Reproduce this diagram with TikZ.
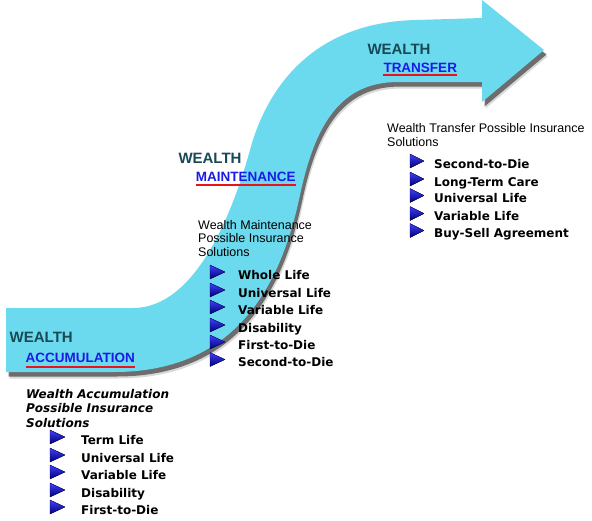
\documentclass[tikz,border=0pt]{standalone}
\usepackage{fontspec}
\setmainfont{Liberation Sans}
\newfontfamily\itemfont{DejaVu Sans}
\usetikzlibrary{shadows}

\definecolor{bandcyan}{HTML}{6CDAEE}
\definecolor{wealthteal}{HTML}{174A55}
\definecolor{stageblue}{HTML}{1A1AE8}
\definecolor{underred}{HTML}{E8141A}

\begin{document}
\begin{tikzpicture}[x=1pt, y=-1pt, line join=round,
    wealth/.style={anchor=base west, inner sep=0, text=wealthteal,
      font=\fontsize{15}{15}\selectfont\bfseries},
    stage/.style={anchor=base west, inner sep=0, text=stageblue,
      font=\fontsize{13.5}{13.5}\selectfont\bfseries},
    intro/.style={anchor=base west, inner sep=0, align=left,
      font=\fontsize{12.5}{13.5}\selectfont},
    choice/.style={anchor=base west, inner sep=0,
      font=\itemfont\bfseries\fontsize{12}{12}\selectfont},
    bullet/.style={top color=blue!75!white, bottom color=blue!45!black, draw=blue!30!black, line width=0.3pt},
    uline/.style={underred, line width=2.2pt}]
      \useasboundingbox (0,0) rectangle (592,520);
      % the S shaped arrow
      \coordinate (L1) at (6,308);
      \coordinate (L2) at (133,308);
      \coordinate (U1) at (250,150);
      \coordinate (U2) at (417,20);
      \coordinate (H1) at (482,18);
      \coordinate (H2) at (482,0);
      \coordinate (Tip) at (544,50);
      \coordinate (H3) at (482,102);
      \coordinate (H4) at (482,82);
      \coordinate (R1) at (398,82);
      \coordinate (R2) at (300,195);
      \coordinate (R3) at (114,372);
      \coordinate (R4) at (6,372);
      \fill[bandcyan,
          drop shadow={shadow xshift=3.5pt, shadow yshift=-6.5pt, fill=black!50, opacity=.3},
          drop shadow={shadow xshift=2.5pt, shadow yshift=-4.5pt, fill=black!75, opacity=.7}]
        (L1) -- (L2) .. controls (195,308) and (232,215) .. (U1)
        .. controls (262,105) and (300,22) .. (U2) -- (H1) -- (H2) -- (Tip) -- (H3) -- (H4) -- (R1)
        .. controls (340,82) and (315,125) .. (R2)
        .. controls (282,280) and (240,372) .. (R3) -- (R4) -- cycle;
      % accumulation
      \node[wealth] (accw) at (9.5,342) {WEALTH};
      \node[stage] (accs) at (25.5,362.5) {ACCUMULATION};
      \draw[uline] ([yshift=-4.3pt]accs.base west) -- ([yshift=-4.3pt]accs.base east);
      \node[intro, font=\itemfont\bfseries\itshape\fontsize{12}{14.5}\selectfont] (acci) at (26,427)
        {Wealth Accumulation\\Possible Insurance\\Solutions};
      \fill[bullet] (50,430) -- (65,437) -- (50,444) -- cycle;
      \fill[bullet] (50,448) -- (65,455) -- (50,462) -- cycle;
      \fill[bullet] (50,465) -- (65,472) -- (50,479) -- cycle;
      \fill[bullet] (50,483) -- (65,490) -- (50,497) -- cycle;
      \fill[bullet] (50,500) -- (65,507) -- (50,514) -- cycle;
      \node[choice] (acc1) at (81,444) {Term Life};
      \node[choice] (acc2) at (81,462) {Universal Life};
      \node[choice] (acc3) at (81,479) {Variable Life};
      \node[choice] (acc4) at (81,497) {Disability};
      \node[choice] (acc5) at (81,514) {First-to-Die};
      % maintenance
      \node[wealth] (mntw) at (178.3,163.3) {WEALTH};
      \node[stage] (mnts) at (195.7,181.7) {MAINTENANCE};
      \draw[uline] ([yshift=-3.3pt]mnts.base west) -- ([yshift=-3.3pt]mnts.base east);
      \node[intro] (mnti) at (198,256) {Wealth Maintenance\\Possible Insurance\\Solutions};
      \fill[bullet] (210,265) -- (225,272) -- (210,279) -- cycle;
      \fill[bullet] (210,283) -- (225,290) -- (210,297) -- cycle;
      \fill[bullet] (210,300) -- (225,307) -- (210,314) -- cycle;
      \fill[bullet] (210,318) -- (225,325) -- (210,332) -- cycle;
      \fill[bullet] (210,335) -- (225,342) -- (210,349) -- cycle;
      \fill[bullet] (210,352.5) -- (225,359.5) -- (210,366.5) -- cycle;
      \node[choice] (mnt1) at (238,279) {Whole Life};
      \node[choice] (mnt2) at (238,297) {Universal Life};
      \node[choice] (mnt3) at (238,314) {Variable Life};
      \node[choice] (mnt4) at (238,332) {Disability};
      \node[choice] (mnt5) at (238,349) {First-to-Die};
      \node[choice] (mnt6) at (238,366.5) {Second-to-Die};
      % transfer
      \node[wealth] (trfw) at (367.3,54.3) {WEALTH};
      \node[stage] (trfs) at (383.3,72.3) {TRANSFER};
      \draw[uline] ([yshift=-2.5pt]trfs.base west) -- ([yshift=-2.5pt]trfs.base east);
      \node[intro] (trfi) at (387,146) {Wealth Transfer Possible Insurance\\Solutions};
      \fill[bullet] (410,154) -- (424,161) -- (410,168) -- cycle;
      \fill[bullet] (410,172) -- (424,179) -- (410,186) -- cycle;
      \fill[bullet] (410,188.5) -- (424,195.5) -- (410,202.5) -- cycle;
      \fill[bullet] (410,206.5) -- (424,213.5) -- (410,220.5) -- cycle;
      \fill[bullet] (410,223.5) -- (424,230.5) -- (410,237.5) -- cycle;
      \node[choice] (trf1) at (434,168) {Second-to-Die};
      \node[choice] (trf2) at (434,186) {Long-Term Care};
      \node[choice] (trf3) at (434,202.5) {Universal Life};
      \node[choice] (trf4) at (434,220.5) {Variable Life};
      \node[choice] (trf5) at (434,237.5) {Buy-Sell Agreement};
    \end{tikzpicture}
\end{document}
